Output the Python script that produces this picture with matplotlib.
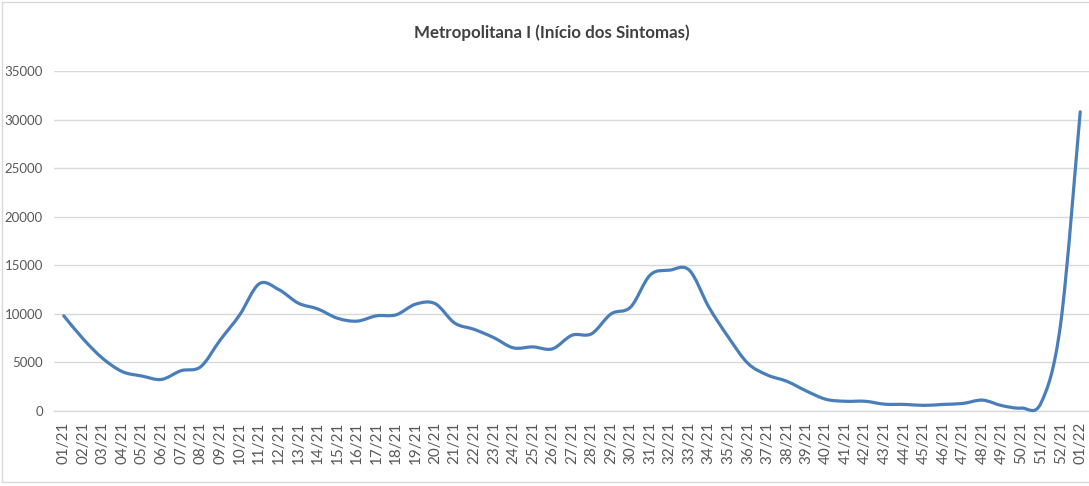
#!/usr/bin/env python3
"""Metropolitana I - cases by symptom onset week (smoothed line, Excel style)."""
import numpy as np
import matplotlib
matplotlib.use("Agg")
import matplotlib.pyplot as plt
from matplotlib.path import Path
from matplotlib.patches import PathPatch, Rectangle

TITLE = "Metropolitana I (Início dos Sintomas)"

weeks = [f"{w:02d}/21" for w in range(1, 53)] + ["01/22"]

cases = [
    9800, 7400, 5400, 4050, 3600, 3250, 4150, 4550, 7300, 9900,
    13100, 12500, 11100, 10500, 9550, 9250, 9800, 9900, 11000, 11050,
    9050, 8400, 7550, 6500, 6600, 6400, 7800, 7950, 10000, 10700,
    14000, 14500, 14500, 10700, 7600, 4900, 3700, 3050, 2050, 1200,
    1000, 1000, 700, 680, 580, 680, 780, 1120, 550, 300,
    850, 9000, 30800,
]

y_ticks = [0, 5000, 10000, 15000, 20000, 25000, 30000, 35000]

LINE_COLOR = "#4a7ebb"
TEXT_COLOR = "#595959"
GRID_COLOR = "#d9d9d9"
FONT = ["Lato", "DejaVu Sans"]


def smooth_path(xs, ys):
    # Catmull-Rom style bezier, like Excel's "smoothed line"
    pts = np.column_stack([xs, ys]).astype(float)
    n = len(pts)
    verts = [pts[0]]
    codes = [Path.MOVETO]
    for i in range(n - 1):
        p0 = pts[i - 1] if i > 0 else pts[i]
        p1 = pts[i]
        p2 = pts[i + 1]
        p3 = pts[i + 2] if i + 2 < n else pts[i + 1]
        c1 = p1 + (p2 - p0) / 6.0
        c2 = p2 - (p3 - p1) / 6.0
        verts += [c1, c2, p2]
        codes += [Path.CURVE4] * 3
    return Path(verts, codes)


def main():
    plt.rcParams["font.family"] = FONT
    fig = plt.figure(figsize=(10.89, 4.86), dpi=100)
    ax = fig.add_axes([54 / 1089, 75 / 486, 1036 / 1089, 340 / 486])

    x = np.arange(len(weeks))
    patch = PathPatch(smooth_path(x, cases), facecolor="none", edgecolor=LINE_COLOR,
                      linewidth=2.3, capstyle="round", joinstyle="round", clip_on=False, zorder=3)
    ax.add_patch(patch)

    ax.set_xlim(-0.5, len(weeks) - 0.5)
    ax.set_ylim(0, 35000)
    ax.set_yticks(y_ticks)
    ax.set_yticklabels([str(v) for v in y_ticks], fontsize=9.5, color=TEXT_COLOR)
    ax.set_xticks(x)
    ax.set_xticklabels(weeks, rotation=90, fontsize=11, color=TEXT_COLOR)
    ax.tick_params(axis="both", length=0)
    ax.tick_params(axis="y", pad=8)
    ax.tick_params(axis="x", pad=8)

    ax.grid(axis="y", color=GRID_COLOR, linewidth=1.0)
    ax.set_axisbelow(True)
    for side in ("top", "right", "left"):
        ax.spines[side].set_visible(False)
    ax.spines["bottom"].set_color(GRID_COLOR)
    ax.spines["bottom"].set_linewidth(1.0)

    fig.text(552 / 1089, 1 - 33 / 486, TITLE, ha="center", va="center",
             fontsize=12.2, fontweight="bold", color="#404040")

    # chart-area border
    fig.patches.append(Rectangle((2 / 1089, 4 / 486), 1.2, 1 - 6 / 486,
                                 transform=fig.transFigure, fill=False,
                                 edgecolor=GRID_COLOR, linewidth=1.0))

    fig.savefig("out.png", dpi=100, facecolor="white")
    plt.close(fig)


if __name__ == "__main__":
    main()
